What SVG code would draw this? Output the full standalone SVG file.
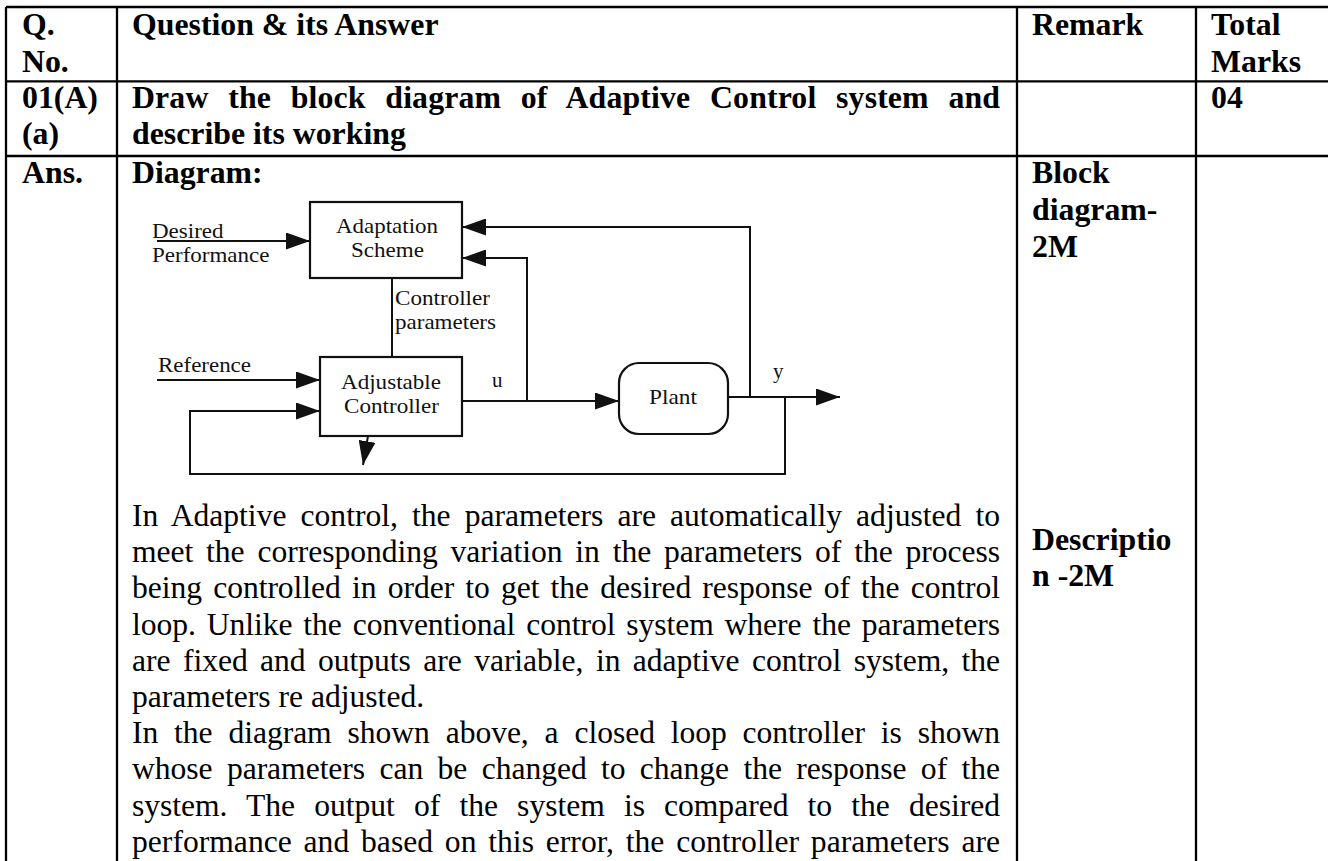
<svg xmlns="http://www.w3.org/2000/svg" width="1328" height="861" viewBox="0 0 1328 861">
<defs>
<style>
.grid{stroke:#000;stroke-width:2.3;fill:none}
.hb{font-family:"Liberation Serif","Times New Roman",serif;font-weight:bold;font-size:31.8px;fill:#000}
.bd{font-family:"Liberation Serif","Times New Roman",serif;font-size:31.6px;fill:#000}
.dg{font-family:"Liberation Serif","Times New Roman",serif;font-size:21px;fill:#111}
.box{fill:none;stroke:#111;stroke-width:2.2}
.wire{fill:none;stroke:#111;stroke-width:2}
</style>
<marker id="arr" markerUnits="userSpaceOnUse" markerWidth="25" markerHeight="17" refX="24" refY="8.5" orient="auto">
<path d="M0,0 L24,8.5 L0,17 z" fill="#111"/>
</marker>
</defs>
<rect width="1328" height="861" fill="#fff"/>

<g id="table">
<path class="grid" d="M6,7 H1328 M6,81.3 H1328 M6,156 H1328 M6,7 V861 M117,7 V861 M1017,7 V861 M1196,7 V861"/>
</g>

<g id="table-text">
<text class="hb" x="22" y="34.5">Q.<tspan x="22" y="71.5">No.</tspan></text>
<text class="hb" x="132" y="34.5">Question &amp; its Answer</text>
<text class="hb" x="1032" y="34.5">Remark</text>
<text class="hb" x="1211" y="34.5">Total<tspan x="1211" y="71.5">Marks</tspan></text>
<text class="hb" x="22" y="108">01(A)<tspan x="22" y="144">(a)</tspan></text>
<text class="hb" x="132" y="108" word-spacing="11.6" textLength="868" lengthAdjust="spacing">Draw the block diagram of Adaptive Control system and</text>
<text class="hb" x="132" y="144">describe its working</text>
<text class="hb" x="1211" y="108">04</text>
<text class="hb" x="22" y="183">Ans.</text>
<text class="hb" x="132" y="183">Diagram:</text>
<text class="hb" x="1032" y="183">Block<tspan x="1032" y="220">diagram-</tspan><tspan x="1032" y="257">2M</tspan></text>
<text class="hb" x="1032" y="550">Descriptio<tspan x="1032" y="586">n -2M</tspan></text>
</g>

<g id="connectors">
<path class="wire" d="M157,241 H310" marker-end="url(#arr)"/>
<path class="wire" d="M750,397 V227 H462" marker-end="url(#arr)"/>
<path class="wire" d="M527,401 V258 H462" marker-end="url(#arr)"/>
<path class="wire" d="M392,278 V357"/>
<path class="wire" d="M157,380 H320" marker-end="url(#arr)"/>
<path class="wire" d="M785,397 V474 H190 V411 H320" marker-end="url(#arr)"/>
<path class="wire" d="M462,401 H619" marker-end="url(#arr)"/>
<path class="wire" d="M728,397 H840" marker-end="url(#arr)"/>
<path class="wire" d="M368,436 L363,465" marker-end="url(#arr)"/>
</g>

<g id="adaptation-scheme">
<rect class="box" x="310" y="202" width="152" height="76"/>
<text class="dg" x="336" y="233" textLength="102" lengthAdjust="spacingAndGlyphs">Adaptation</text>
<text class="dg" x="351" y="257" textLength="73" lengthAdjust="spacingAndGlyphs">Scheme</text>
</g>

<g id="adjustable-controller">
<rect class="box" x="320" y="357" width="142" height="79"/>
<text class="dg" x="341" y="389" textLength="100" lengthAdjust="spacingAndGlyphs">Adjustable</text>
<text class="dg" x="344" y="413" textLength="95" lengthAdjust="spacingAndGlyphs">Controller</text>
</g>

<g id="plant">
<rect class="box" x="619" y="363" width="109" height="71" rx="20" ry="20"/>
<text class="dg" x="673" y="404" text-anchor="middle" textLength="48" lengthAdjust="spacingAndGlyphs">Plant</text>
</g>

<g id="labels">
<text class="dg" x="152" y="238" textLength="71.5" lengthAdjust="spacingAndGlyphs">Desired</text>
<text class="dg" x="152" y="262" textLength="117.5" lengthAdjust="spacingAndGlyphs">Performance</text>
<text class="dg" x="395" y="305" textLength="95" lengthAdjust="spacingAndGlyphs">Controller</text>
<text class="dg" x="395" y="329" textLength="101" lengthAdjust="spacingAndGlyphs">parameters</text>
<text class="dg" x="158" y="372" textLength="93" lengthAdjust="spacingAndGlyphs">Reference</text>
<text class="dg" x="492" y="387">u</text>
<text class="dg" x="773" y="378">y</text>
</g>

<g id="description">
<text class="bd" x="132" y="526" word-spacing="6.2" textLength="868" lengthAdjust="spacing">In Adaptive control, the parameters are automatically adjusted to</text>
<text class="bd" x="132" y="562.2" word-spacing="5" textLength="868" lengthAdjust="spacing">meet the corresponding variation in the parameters of the process</text>
<text class="bd" x="132" y="598.4" word-spacing="3.3" textLength="868" lengthAdjust="spacing">being controlled in order to get the desired response of the control</text>
<text class="bd" x="132" y="634.6" word-spacing="3" textLength="868" lengthAdjust="spacing">loop. Unlike the conventional control system where the parameters</text>
<text class="bd" x="132" y="670.8" word-spacing="4.6" textLength="868" lengthAdjust="spacing">are fixed and outputs are variable, in adaptive control system, the</text>
<text class="bd" x="132" y="707">parameters re adjusted.</text>
<text class="bd" x="132" y="743.2" word-spacing="8" textLength="868" lengthAdjust="spacing">In the diagram shown above, a closed loop controller is shown</text>
<text class="bd" x="132" y="779.4" word-spacing="6.5" textLength="868" lengthAdjust="spacing">whose parameters can be changed to change the response of the</text>
<text class="bd" x="132" y="815.6" word-spacing="11.3" textLength="868" lengthAdjust="spacing">system. The output of the system is compared to the desired</text>
<text class="bd" x="132" y="851.8" word-spacing="3.9" textLength="868" lengthAdjust="spacing">performance and based on this error, the controller parameters are</text>
</g>
</svg>
